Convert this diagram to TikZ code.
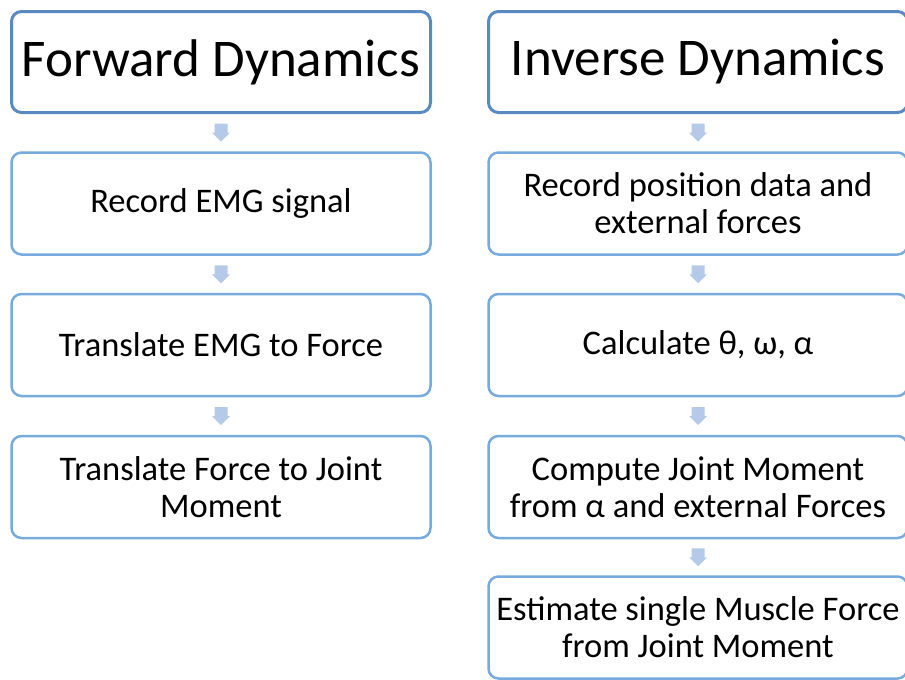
\documentclass[tikz,border=0pt]{standalone}
\usepackage{fontspec}
\setmainfont{Carlito}

\definecolor{titleblue}{HTML}{5A8AC2}
\definecolor{boxblue}{HTML}{77AADD}
\definecolor{arrowblue}{HTML}{B5CAE8}

\begin{document}
\begin{tikzpicture}[x=1pt,y=-1pt,
    titlebox/.style={draw=titleblue, line width=3pt, rounded corners=10pt,
        minimum width=419pt, minimum height=101pt, inner sep=0pt,
        font=\fontsize{53}{62}\selectfont},
    stepbox/.style={draw=boxblue, line width=2.5pt, rounded corners=10pt,
        minimum width=419pt, minimum height=102pt, inner sep=0pt, align=center,
        font=\fontsize{34.5}{37}\selectfont}
]
\useasboundingbox (0,0) rectangle (905,680);
\clip (0,0) rectangle (905,680);

% forward dynamics column
\node[titlebox] (fd) at (221,62) {Forward Dynamics};
\node[stepbox] (fd1) at (221,203.5) {Record EMG signal};
\node[stepbox] (fd2) at (221,345) {Translate EMG to Force};
\node[stepbox] (fd3) at (221,487) {Translate Force to Joint\\Moment};

% inverse dynamics column
\node[titlebox] (id) at (698,62) {Inverse Dynamics};
\node[stepbox] (id1) at (698,203.5) {Record position data and\\external forces};
\node[stepbox] (id2) at (698,345) {Calculate θ, ω, α};
\node[stepbox] (id3) at (698,487) {Compute Joint Moment\\from α and external Forces};
\node[stepbox] (id4) at (698,627.5) {Estimate single Muscle Force\\from Joint Moment};

% block arrows between the steps
\foreach \a/\b in {fd/fd1,fd1/fd2,fd2/fd3,id/id1,id1/id2,id2/id3,id3/id4}
{
    \path (\a.south) -- coordinate[midway] (m-\b) (\b.north);
    \fill[arrowblue, shift={(m-\b)}] (-6.5,-9) -- (6.5,-9) -- (6.5,0) -- (9,0)
        -- (0,9) -- (-9,0) -- (-6.5,0) -- cycle;
}

\end{tikzpicture}
\end{document}
